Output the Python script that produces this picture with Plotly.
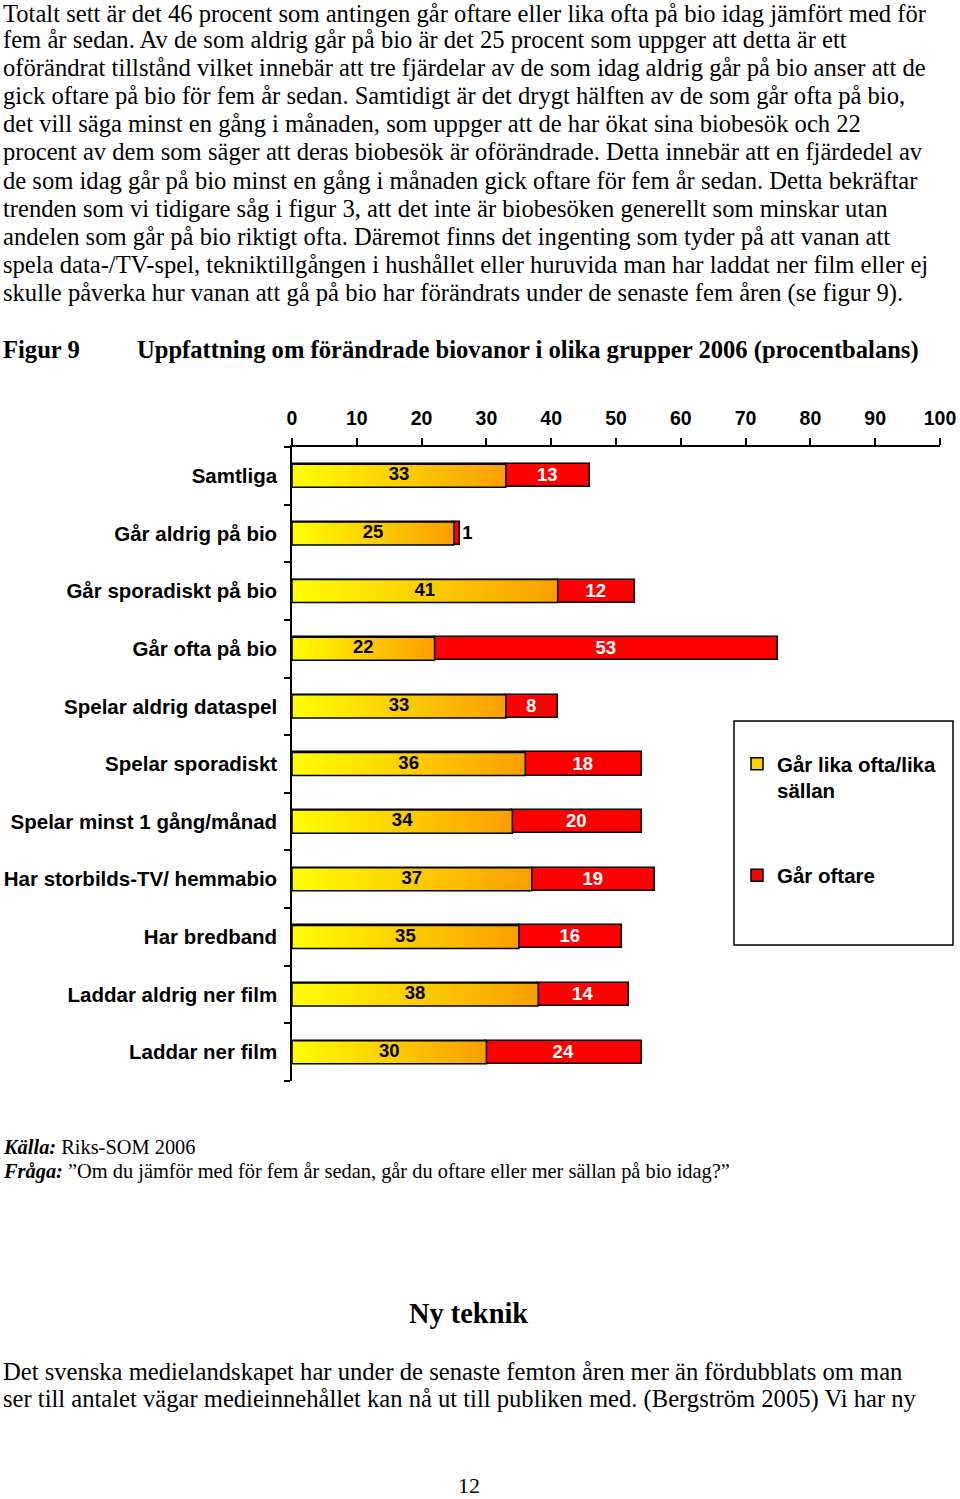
import plotly.graph_objects as go

W, H = 960, 1499
def px(x): return x / W
def py(y): return 1 - y / H

categories = ["Samtliga", "Går aldrig på bio", "Går sporadiskt på bio", "Går ofta på bio",
              "Spelar aldrig dataspel", "Spelar sporadiskt", "Spelar minst 1 gång/månad",
              "Har storbilds-TV/ hemmabio", "Har bredband", "Laddar aldrig ner film", "Laddar ner film"]
same_often = [33, 25, 41, 22, 33, 36, 34, 37, 35, 38, 30]
more_often = [13, 1, 12, 53, 8, 18, 20, 19, 16, 14, 24]
x_ticks = [0, 10, 20, 30, 40, 50, 60, 70, 80, 90, 100]
series_names = ["Går lika ofta/lika<br>sällan", "Går oftare"]

body_lines = [
    "Totalt sett är det 46 procent som antingen går oftare eller lika ofta på bio idag jämfört med för",
    "fem år sedan. Av de som aldrig går på bio är det 25 procent som uppger att detta är ett",
    "oförändrat tillstånd vilket innebär att tre fjärdelar av de som idag aldrig går på bio anser att de",
    "gick oftare på bio för fem år sedan. Samtidigt är det drygt hälften av de som går ofta på bio,",
    "det vill säga minst en gång i månaden, som uppger att de har ökat sina biobesök och 22",
    "procent av dem som säger att deras biobesök är oförändrade. Detta innebär att en fjärdedel av",
    "de som idag går på bio minst en gång i månaden gick oftare för fem år sedan. Detta bekräftar",
    "trenden som vi tidigare såg i figur 3, att det inte är biobesöken generellt som minskar utan",
    "andelen som går på bio riktigt ofta. Däremot finns det ingenting som tyder på att vanan att",
    "spela data-/TV-spel, tekniktillgången i hushållet eller huruvida man har laddat ner film eller ej",
    "skulle påverka hur vanan att gå på bio har förändrats under de senaste fem åren (se figur 9).",
]
bottom_lines = [
    "Det svenska medielandskapet har under de senaste femton åren mer än fördubblats om man",
    "ser till antalet vägar medieinnehållet kan nå ut till publiken med. (Bergström 2005) Vi har ny",
]

SANS = "Liberation Sans"
SERIF = "Liberation Serif"
BW = 0.4
idx = list(range(len(categories)))

fig = go.Figure()

# yellow segment (legend + base)
fig.add_trace(go.Bar(
    y=idx, x=same_often, base=0, orientation="h", width=BW,
    marker=dict(color="#FFD000", line=dict(color="black", width=1.5)),
    name=series_names[0], legendgroup="a", showlegend=True, hoverinfo="skip"))
# red segment
fig.add_trace(go.Bar(
    y=idx, x=more_often, base=same_often, orientation="h", width=BW,
    marker=dict(color="#FF0000", line=dict(color="black", width=1.5)),
    text=[str(v) for v in more_often],
    textposition=["outside" if v < 3 else "inside" for v in more_often],
    insidetextanchor="middle", constraintext="none", textangle=0,
    insidetextfont=dict(family=SANS, size=18.5, color="white", weight="bold"),
    outsidetextfont=dict(family=SANS, size=18.5, color="black", weight="bold"),
    cliponaxis=False,
    name=series_names[1], legendgroup="b", showlegend=True, hoverinfo="skip"))

# gradient overlay for yellow segments
for i, v in zip(idx, same_often):
    fig.add_trace(go.Scatter(
        x=[0, v, v, 0, 0], y=[i - BW / 2, i - BW / 2, i + BW / 2, i + BW / 2, i - BW / 2],
        mode="lines", fill="toself",
        fillgradient=dict(type="horizontal", colorscale=[[0, "#FFFF00"], [1, "#FA9E00"]]),
        line=dict(color="black", width=1.5), showlegend=False, hoverinfo="skip"))

fig.add_trace(go.Scatter(
    x=[v / 2 for v in same_often], y=idx, mode="text", text=[str(v) for v in same_often],
    textfont=dict(family=SANS, size=18.5, color="black", weight="bold"),
    showlegend=False, hoverinfo="skip"))

BODY = 24.6
line_y = [14] + [11 + k * 28.2 for k in range(1, len(body_lines))]
ann = []
for yy, line in zip(line_y, body_lines):
    ann.append(dict(x=px(2), y=py(yy), text=line, xanchor="left", yanchor="middle",
                    font=dict(family=SERIF, size=BODY, color="black")))
for k, line in enumerate(bottom_lines):
    ann.append(dict(x=px(2), y=py(1371 + k * 28.2), text=line, xanchor="left", yanchor="middle",
                    font=dict(family=SERIF, size=BODY, color="black")))
ann.append(dict(x=px(2), y=py(350), text="<b>Figur 9</b>", xanchor="left", yanchor="middle",
                font=dict(family=SERIF, size=BODY, color="black")))
ann.append(dict(x=px(136), y=py(350),
                text="<b>Uppfattning om förändrade biovanor i olika grupper 2006 (procentbalans)</b>",
                xanchor="left", yanchor="middle", font=dict(family=SERIF, size=BODY, color="black")))
ann.append(dict(x=px(2), y=py(1147), text="<b><i>Källa:</i></b> Riks-SOM 2006",
                xanchor="left", yanchor="middle", font=dict(family=SERIF, size=20.4, color="black")))
ann.append(dict(x=px(2), y=py(1171),
                text="<b><i>Fråga:</i></b> ”Om du jämför med för fem år sedan, går du oftare eller mer sällan på bio idag?”",
                xanchor="left", yanchor="middle", font=dict(family=SERIF, size=20.4, color="black")))
ann.append(dict(x=px(468), y=py(1313), text="<b>Ny teknik</b>", xanchor="center", yanchor="middle",
                font=dict(family=SERIF, size=28.4, color="black")))
ann.append(dict(x=px(469), y=py(1485), text="12", xanchor="center", yanchor="middle",
                font=dict(family=SERIF, size=22, color="black")))
for a in ann:
    a.update(xref="paper", yref="paper", showarrow=False, borderpad=0)

fig.update_layout(
    width=W, height=H, autosize=False,
    margin=dict(l=0, r=0, t=0, b=0, autoexpand=False),
    paper_bgcolor="white", plot_bgcolor="white",
    barmode="overlay", bargap=0,
    annotations=ann,
    shapes=[dict(type="rect", xref="paper", yref="paper",
                 x0=px(734), x1=px(953), y0=py(945), y1=py(721),
                 line=dict(color="black", width=1.5), fillcolor="rgba(0,0,0,0)")],
    legend=dict(x=px(737), y=py(744), xanchor="left", yanchor="top",
                bgcolor="rgba(0,0,0,0)", borderwidth=0,
                font=dict(family=SANS, size=20.5, color="black", weight="bold"),
                tracegroupgap=55, valign="top"),
    xaxis=dict(domain=[px(292), px(940)], range=[0, 100], tickvals=x_ticks,
               side="top", showline=True, linecolor="black", linewidth=1.5,
               ticks="outside", ticklen=7, tickcolor="black", tickwidth=1.5,
               showgrid=False, zeroline=False, automargin=False, ticklabelstandoff=5,
               tickfont=dict(family=SANS, size=19.5, color="black", weight="bold")),
    yaxis=dict(domain=[py(1081), py(447)], range=[len(categories) - 0.5, -0.5],
               tickmode="array", tickvals=idx, ticktext=categories, ticks="",
               showline=True, linecolor="black", linewidth=1.5,
               showgrid=False, zeroline=False, ticklabelstandoff=9, automargin=False,
               minor=dict(tick0=-0.5, dtick=1, ticks="outside", ticklen=6,
                          tickcolor="black", tickwidth=1.5, showgrid=False),
               tickfont=dict(family=SANS, size=20.5, color="black", weight="bold")),
)

fig.write_html("out.html")
